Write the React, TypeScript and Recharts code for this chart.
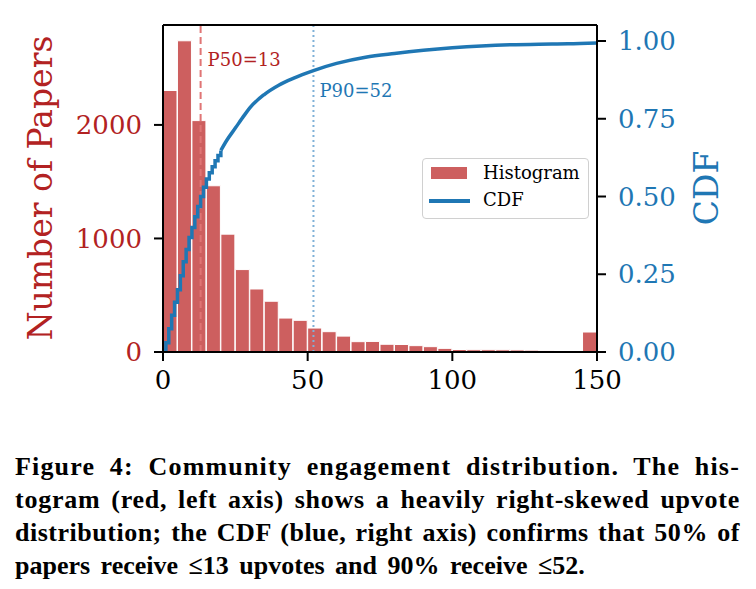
import React from 'react';
import {
  ComposedChart, Bar, Line, XAxis, YAxis, ReferenceLine,
} from 'recharts';

// histogram bins (upvotes), width 5
const binStarts = [0, 5, 10, 15, 20, 25, 30, 35, 40, 45, 50, 55, 60, 65, 70, 75, 80, 85, 90, 95, 100, 105, 110, 115, 120, 125, 130, 135, 140, 145];
const binCounts = [2303, 2741, 2038, 1464, 1038, 726, 555, 447, 299, 279, 211, 179, 140, 91, 93, 68, 66, 56, 47, 32, 22, 20, 20, 19, 18, 16, 14, 0, 0, 176];

// CDF
const cdfEarlyX = [0, 1, 2, 3, 4, 5, 6, 7, 8, 9, 10, 11, 12, 13, 14, 15, 16, 17, 18, 19, 20];
const cdfEarlyY = [0.006, 0.03, 0.075, 0.118, 0.16, 0.2, 0.245, 0.29, 0.33, 0.368, 0.4, 0.435, 0.468, 0.5, 0.53, 0.556, 0.576, 0.596, 0.615, 0.632, 0.648];
const cdfTailX = [20, 22, 25, 28, 30, 35, 40, 45, 52, 60, 70, 80, 90, 100, 110, 120, 130, 140, 150];
const cdfTailY = [0.648, 0.68, 0.72, 0.76, 0.785, 0.828, 0.858, 0.88, 0.905, 0.928, 0.948, 0.96, 0.97, 0.978, 0.984, 0.988, 0.99, 0.991, 0.994];

const xTicks = [0, 50, 100, 150];
const countTicks = [0, 1000, 2000];
const cdfTicks = [0, 0.25, 0.5, 0.75, 1];
const P50 = 13;
const P90 = 52;

const captionLines = [
  'Figure 4: Community engagement distribution. The his-',
  'togram (red, left axis) shows a heavily right-skewed upvote',
  'distribution; the CDF (blue, right axis) confirms that 50% of',
  'papers receive \u226413 upvotes and 90% receive \u226452.',
];

const RED = '#b22222';
const BAR = '#cd5f5f';
const BLUE = '#1f77b4';
const FONT = '"DejaVu Serif", serif';
const CAPTION_FONT = 'bold 26px "Liberation Serif"';
const CAPTION_W = 725;

const histData = binStarts.map((s, i) => ({ bin: s, count: binCounts[i] }));
const cdfEarly = cdfEarlyX.map((x, i) => ({ x, cdf: cdfEarlyY[i] }));
const cdfTail = cdfTailX.map((x, i) => ({ x, cdf: cdfTailY[i] }));

const axisLine = { stroke: '#000', strokeWidth: 2 };
const tickLine = { stroke: '#000', strokeWidth: 2 };

// spread justified lines partly through letter spacing, like the tighter original
function letterSpacingFor(line: string): number {
  const ctx = document.createElement('canvas').getContext('2d');
  if (!ctx) return 0;
  ctx.font = CAPTION_FONT;
  const w = ctx.measureText(line).width;
  return Math.max(0, ((CAPTION_W - w) * 0.6) / line.length);
}

const LegendBox = () => (
  <div style={{
    position: 'absolute', left: 422, top: 158,
    width: 167, height: 61, border: '1.5px solid #d0d0d0', borderRadius: 4, background: '#fff',
    fontFamily: FONT, fontSize: 18, color: '#000', boxSizing: 'border-box',
  }}>
    <div style={{ position: 'absolute', left: 8, top: 8, width: 36, height: 12, background: BAR }} />
    <div style={{ position: 'absolute', left: 60, top: 1, lineHeight: '26px' }}>Histogram</div>
    <div style={{ position: 'absolute', left: 6, top: 40, width: 41, height: 4, background: BLUE }} />
    <div style={{ position: 'absolute', left: 60, top: 28, lineHeight: '26px' }}>CDF</div>
  </div>
);

const App: React.FC = () => {
  return (
    <div style={{ position: 'absolute', left: 0, top: 0, width: 756, height: 589, background: '#fff' }}>
      <ComposedChart width={756} height={420} data={histData} barCategoryGap={0} barGap={0}
        margin={{ top: 25, right: 0, left: 0, bottom: 0 }}>
        <XAxis xAxisId="bins" dataKey="bin" type="category" orientation="top" height={0} hide />
        <XAxis
          xAxisId="x" dataKey="x" type="number" domain={[0, 150]} ticks={xTicks} allowDataOverflow
          height={68} tickSize={9} tickMargin={10} axisLine={axisLine} tickLine={tickLine}
          tick={{ fontSize: 26, fontFamily: FONT, fill: '#000' }}
        />
        <YAxis
          yAxisId="left" orientation="left" domain={[0, 2880]} ticks={countTicks} allowDataOverflow
          width={163} tickSize={9} tickMargin={12} axisLine={axisLine} tickLine={tickLine}
          tick={{ fontSize: 26, fontFamily: FONT, fill: RED }}
          label={{
            content: () => (
              <text x={40} y={188} transform="rotate(-90 40 188)" textAnchor="middle" dominantBaseline="central"
                fontSize={33} fontFamily={FONT} fill={RED}>Number of Papers</text>
            ),
          }}
        />
        <YAxis
          yAxisId="right" orientation="right" domain={[0, 1.0515]} ticks={cdfTicks} allowDataOverflow
          width={159} tickSize={9} tickMargin={12} axisLine={axisLine} tickLine={tickLine}
          tickFormatter={(v: number) => v.toFixed(2)}
          tick={{ fontSize: 26, fontFamily: FONT, fill: BLUE }}
          label={{
            content: () => (
              <text x={706} y={188} transform="rotate(-90 706 188)" textAnchor="middle" dominantBaseline="central"
                fontSize={33} fontFamily={FONT} fill={BLUE}>CDF</text>
            ),
          }}
        />
        <Bar xAxisId="bins" yAxisId="left" dataKey="count" fill={BAR} stroke="#fff" strokeWidth={1}
          isAnimationActive={false} />
        <ReferenceLine xAxisId="x" yAxisId="left" x={P50} stroke="#e07575" strokeWidth={2} strokeDasharray="7 4"
          label={{
            content: (p: any) => (
              <text x={p.viewBox.x + 7} y={p.viewBox.y + 41} fontSize={18} fontFamily={FONT} fill={RED}>P50={P50}</text>
            ),
          }}
        />
        <ReferenceLine xAxisId="x" yAxisId="left" x={P90} stroke="#7fb1d8" strokeWidth={2} strokeDasharray="2 3"
          label={{
            content: (p: any) => (
              <text x={p.viewBox.x + 6} y={p.viewBox.y + 72} fontSize={18} fontFamily={FONT} fill={BLUE}>P90={P90}</text>
            ),
          }}
        />
        <ReferenceLine xAxisId="x" yAxisId="left" y={2880} stroke="#000" strokeWidth={2} />
        <Line xAxisId="x" yAxisId="right" data={cdfEarly} dataKey="cdf" type="stepAfter" stroke={BLUE}
          strokeWidth={3.5} dot={false} isAnimationActive={false} />
        <Line xAxisId="x" yAxisId="right" data={cdfTail} dataKey="cdf" type="monotone" stroke={BLUE}
          strokeWidth={3.5} dot={false} isAnimationActive={false} />
      </ComposedChart>
      <LegendBox />
      <div style={{
        position: 'absolute', left: 15, top: 450, width: CAPTION_W,
        fontFamily: '"Liberation Serif", serif', fontWeight: 'bold', fontSize: 26, color: '#000',
      }}>
        {captionLines.map((line, i) => {
          const last = i === captionLines.length - 1;
          return (
            <div key={i} style={{
              height: 33, lineHeight: '33px', whiteSpace: 'nowrap',
              textAlign: 'left', textAlignLast: last ? 'left' : 'justify',
              letterSpacing: last ? 0 : letterSpacingFor(line),
              wordSpacing: last ? 4 : 0,
            }}>{line}</div>
          );
        })}
      </div>
    </div>
  );
};

export default App;
